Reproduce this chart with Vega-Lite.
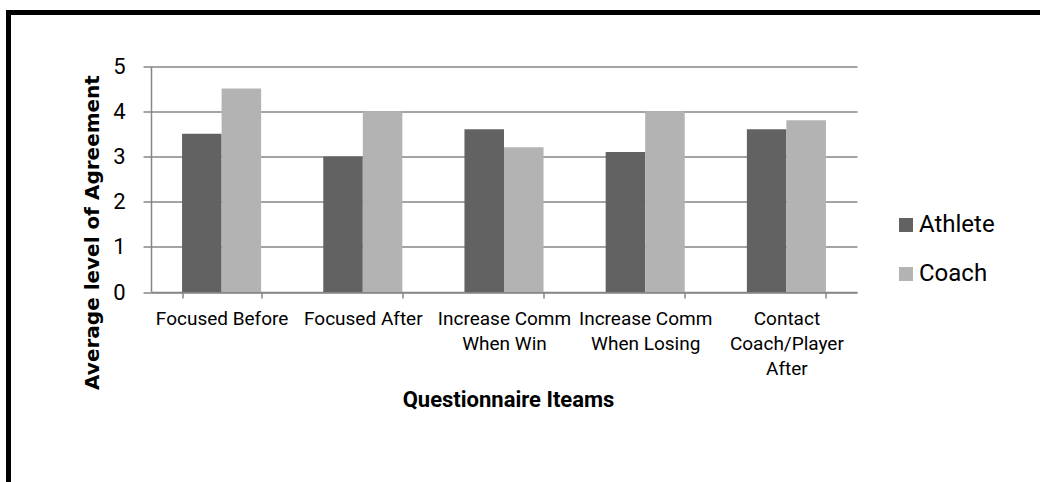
{
  "$schema": "https://vega.github.io/schema/vega-lite/v6.json",
  "width": 1031.5,
  "height": 469.5,
  "padding": {"left": 8.5, "top": 12.5, "right": 0, "bottom": 0},
  "autosize": {"type": "none"},
  "background": "#ffffff",
  "view": {
    "stroke": "#000000",
    "strokeWidth": 5,
    "strokeCap": "square",
    "strokeDash": [1031.5, 1501, 469.5],
    "fill": null
  },
  "data": {
    "values": [
      {"item": "Focused Before", "group": "Athlete", "score": 3.5},
      {"item": "Focused Before", "group": "Coach", "score": 4.5},
      {"item": "Focused After", "group": "Athlete", "score": 3.0},
      {"item": "Focused After", "group": "Coach", "score": 4.0},
      {"item": "Increase Comm When Win", "group": "Athlete", "score": 3.6},
      {"item": "Increase Comm When Win", "group": "Coach", "score": 3.2},
      {"item": "Increase Comm When Losing", "group": "Athlete", "score": 3.1},
      {"item": "Increase Comm When Losing", "group": "Coach", "score": 4.0},
      {"item": "Contact Coach/Player After", "group": "Athlete", "score": 3.6},
      {"item": "Contact Coach/Player After", "group": "Coach", "score": 3.8}
    ]
  },
  "mark": {"type": "bar"},
  "encoding": {
    "x": {
      "field": "item",
      "type": "nominal",
      "sort": null,
      "scale": {"range": [142.5, 848.5], "paddingInner": 0.44, "paddingOuter": 0.22},
      "axis": {
        "orient": "bottom",
        "offset": -190,
        "title": "Questionnaire Iteams",
        "titleFont": "Roboto",
        "titleFontSize": 22,
        "titleFontWeight": "bold",
        "titleColor": "#000000",
        "titleX": 499.5,
        "titleY": 107,
        "titleBaseline": "middle",
        "titleAlign": "center",
        "labelAngle": 0,
        "labelFont": "Roboto",
        "labelFontSize": 19,
        "labelColor": "#000000",
        "labelPadding": 11,
        "labelLineHeight": 25,
        "labelLimit": 200,
        "labelExpr": "datum.value == 'Increase Comm When Win' ? ['Increase Comm', 'When Win'] : datum.value == 'Increase Comm When Losing' ? ['Increase Comm', 'When Losing'] : datum.value == 'Contact Coach/Player After' ? ['Contact', 'Coach/Player', 'After'] : datum.value",
        "tickBand": "extent",
        "tickSize": 6,
        "tickColor": "#868686",
        "tickWidth": 1.5,
        "domainColor": "#868686",
        "domainWidth": 1.5,
        "grid": false
      }
    },
    "xOffset": {
      "field": "group",
      "type": "nominal",
      "scale": {"paddingInner": 0, "paddingOuter": 0}
    },
    "y": {
      "field": "score",
      "type": "quantitative",
      "scale": {"domain": [0, 5], "range": [279.5, 53.5], "nice": false},
      "axis": {
        "orient": "left",
        "offset": -142.5,
        "values": [0, 1, 2, 3, 4, 5],
        "title": "Average level of Agreement",
        "titleFont": "DejaVu Sans",
        "titleFontSize": 20,
        "titleFontWeight": "bold",
        "titleColor": "#000000",
        "titleAngle": -90,
        "titleX": -53,
        "titleY": 219.5,
        "titleAlign": "center",
        "titleBaseline": "alphabetic",
        "labelFont": "Roboto",
        "labelFontSize": 22,
        "labelColor": "#000000",
        "labelPadding": 18,
        "tickSize": 8,
        "tickColor": "#868686",
        "tickWidth": 1.5,
        "domainColor": "#868686",
        "domainWidth": 1.5,
        "grid": true,
        "gridColor": "#868686",
        "gridWidth": 1.5
      }
    },
    "color": {
      "field": "group",
      "type": "nominal",
      "scale": {"domain": ["Athlete", "Coach"], "range": ["#626262", "#b3b3b3"]},
      "legend": {
        "title": null,
        "orient": "none",
        "legendX": 885.5,
        "legendY": 200.5,
        "padding": 0,
        "symbolType": "square",
        "symbolSize": 196,
        "symbolStrokeWidth": 0,
        "labelFont": "Roboto",
        "labelFontSize": 24,
        "labelColor": "#000000",
        "labelOffset": 1,
        "rowPadding": 25
      }
    }
  }
}
